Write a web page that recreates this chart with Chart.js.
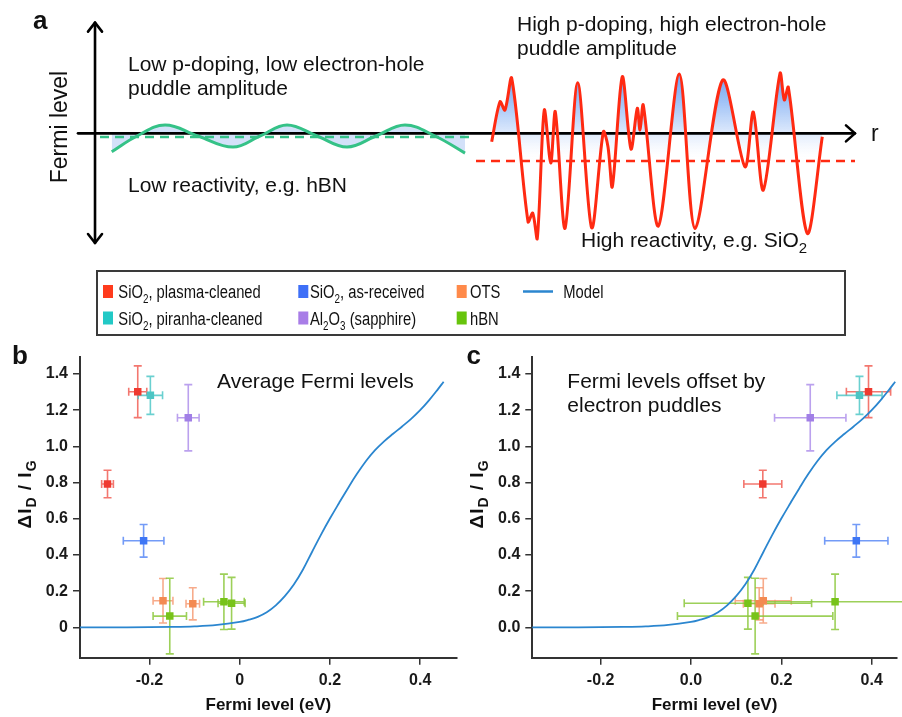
<!DOCTYPE html>
<html><head><meta charset="utf-8">
<script src="https://cdn.jsdelivr.net/npm/chart.js@4.4.1/dist/chart.umd.min.js"></script>
<style>
html,body{margin:0;padding:0;background:#fff;}
body{width:902px;height:717px;position:relative;overflow:hidden;}
canvas{position:absolute;display:block;}
#ca{left:0;top:0;}
#cb{left:0;top:335px;}
#cc{left:450px;top:335px;}
</style></head><body>
<canvas id="ca" width="902" height="340"></canvas>
<canvas id="cb" width="462" height="382"></canvas>
<canvas id="cc" width="452" height="382"></canvas>
<script>
// ---------- Panel a: schematic Fermi level vs position r (arbitrary units) ----------
const lowR     = [4.34, 7.59, 11.20, 15.44, 19.95, 23.42, 26.90, 30.76, 34.62, 38.35, 42.08, 45.95, 49.81];
const lowLevel = [-0.160, -0.023, 0.072, -0.023, -0.119, -0.023, 0.072, -0.023, -0.119, -0.023, 0.072, -0.023, -0.171];
const lowMeanR = [2.83, 50.84];
const lowMean  = -0.032;
const highR     = [53.24,54.31,54.95,55.82,57.92,58.52,59.11,60.01,60.84,61.43,62.68,64.31,66.11,67.61,68.21,68.77,70.05,71.17,71.98,72.33,72.75,74.69,77.39,79.41,82.97,85.84,86.91,88.20,90.35,90.90,91.42,93.86,95.79];
const highLevel = [-0.073,0.274,0.202,0.477,-0.767,-0.691,-0.911,0.202,-0.258,0.187,-0.824,0.439,-0.819,0.014,-0.116,-0.463,0.491,-0.136,0.217,0.029,0.245,-0.804,0.514,-0.824,0.462,-0.290,0.185,-0.492,0.520,0.289,0.399,-0.867,-0.029];
const highMeanR = [51.22, 100];
const highMean  = -0.240;

// ---------- Panels b / c data ----------
const plasmaY = [1.302, 0.792], plasmaYErr = [0.143, 0.076];
const plasmaX_b = [-0.226, -0.293], plasmaXErr_b = [0.020, 0.013];
const plasmaX_c = [0.393, 0.159],  plasmaXErr_c = [0.049, 0.042];
const piranhaY = [1.282], piranhaYErr = [0.105];
const piranhaX_b = [-0.198], piranhaXErr_b = [0.027];
const piranhaX_c = [0.373],  piranhaXErr_c = [0.050];
const asRecY = [0.478], asRecYErr = [0.090];
const asRecX_b = [-0.213], asRecXErr_b = [0.045];
const asRecX_c = [0.366],  asRecXErr_c = [0.070];
const sapphY = [1.158], sapphYErr = [0.183];
const sapphX_b = [-0.114], sapphXErr_b = [0.024];
const sapphX_c = [0.264],  sapphXErr_c = [0.079];
const otsY = [0.147, 0.130], otsYErr = [0.123, 0.089];
const otsX_b = [-0.170, -0.104], otsXErr_b = [0.022, 0.015];
const otsX_c = [0.160, 0.151],   otsXErr_c = [0.062, 0.035];
const hbnY = [0.062, 0.141, 0.133], hbnYErr = [0.209, 0.153, 0.143];
const hbnX_b = [-0.155, -0.035, -0.018], hbnXErr_b = [0.037, 0.045, 0.030];
const hbnX_c = [0.142, 0.319, 0.126],    hbnXErr_c = [0.172, 0.160, 0.141];

const modelX = [-0.354,-0.25,-0.15,-0.10,-0.05,0.00,0.02,0.04,0.06,0.08,0.10,0.12,0.14,0.16,0.18,0.20,0.22,0.24,0.26,0.28,0.30,0.32,0.34,0.36,0.38,0.40,0.42,0.44,0.452];
const modelY = [0.000,0.000,0.002,0.005,0.013,0.030,0.042,0.058,0.083,0.121,0.172,0.236,0.318,0.415,0.511,0.601,0.686,0.769,0.848,0.919,0.979,1.028,1.070,1.110,1.152,1.200,1.256,1.318,1.357];

const xTicks = [-0.2, 0, 0.2, 0.4];
const xTickLabelsB = ['-0.2', '0', '0.2', '0.4'];
const xTickLabelsC = ['-0.2', '0.0', '0.2', '0.4'];
const yTicks = [0, 0.2, 0.4, 0.6, 0.8, 1.0, 1.2, 1.4];
const yTickLabelsB = ['0', '0.2', '0.4', '0.6', '0.8', '1.0', '1.2', '1.4'];
const yTickLabelsC = ['0.0', '0.2', '0.4', '0.6', '0.8', '1.0', '1.2', '1.4'];

const colors = {
  plasma:  {m:'#ef3a30', e:'rgba(240,85,75,0.8)',  l:'#ff3b1d'},
  piranha: {m:'#4cc5c4', e:'rgba(80,200,200,0.85)', l:'#22c9c6'},
  asrec:   {m:'#3e76f5', e:'rgba(80,130,245,0.8)', l:'#3e6ff7'},
  sapph:   {m:'#a17fe6', e:'rgba(175,145,235,0.85)', l:'#a87de7'},
  ots:     {m:'#f38a52', e:'rgba(245,150,110,0.8)', l:'#ff8a4a'},
  hbn:     {m:'#78c31a', e:'rgba(140,200,60,0.85)', l:'#67c40c'},
  model:   '#2b86cf'
};

const FONT = '"Liberation Sans", Arial, sans-serif';
function hasFont(name){
  const c = document.createElement('canvas').getContext('2d');
  c.font = '40px monospace'; const w1 = c.measureText('abcdefghijklmnopWM').width;
  c.font = '40px "' + name + '", monospace'; const w2 = c.measureText('abcdefghijklmnopWM').width;
  return Math.abs(w1 - w2) > 0.5;
}
const NARROW = hasFont('Liberation Sans Narrow');

// draws parts [[text, isSub], ...]
function richText(ctx, parts, x, y, size, opts){
  opts = opts || {};
  const weight = opts.bold ? 'bold ' : '';
  let fam = FONT, sx = 1;
  if (opts.narrow){ if (NARROW) fam = '"Liberation Sans Narrow", ' + FONT; else sx = 0.82; }
  const subSize = opts.subSize || Math.round(size * 0.68);
  ctx.save();
  ctx.translate(x, y); ctx.scale(sx, 1);
  ctx.textBaseline = 'alphabetic'; ctx.textAlign = 'left';
  let cx = 0;
  for (const [t, sub] of parts){
    ctx.font = weight + (sub ? subSize : size) + 'px ' + fam;
    ctx.fillText(t, cx, sub ? size * 0.28 : 0);
    cx += ctx.measureText(t).width;
  }
  ctx.restore();
}

// ---------- Panel a ----------
const legendItems = [
  {parts:[['SiO',0],['2',1],[', plasma-cleaned',0]], c:colors.plasma.l, col:0, row:0},
  {parts:[['SiO',0],['2',1],[', piranha-cleaned',0]], c:colors.piranha.l, col:0, row:1},
  {parts:[['SiO',0],['2',1],[', as-received',0]], c:colors.asrec.l, col:1, row:0},
  {parts:[['Al',0],['2',1],['O',0],['3',1],[' (sapphire)',0]], c:colors.sapph.l, col:1, row:1},
  {parts:[['OTS',0]], c:colors.ots.l, col:2, row:0},
  {parts:[['hBN',0]], c:colors.hbn.l, col:2, row:1},
];

const panelA = {
  id: 'panelA',
  beforeDatasetsDraw(chart){
    const {ctx} = chart, xs = chart.scales.x, ys = chart.scales.y;
    ctx.save();
    ctx.strokeStyle = '#000'; ctx.lineWidth = 2.6; ctx.lineCap = 'round'; ctx.lineJoin = 'round';
    const y0 = ys.getPixelForValue(0);
    const x0 = xs.getPixelForValue(0), x1 = xs.getPixelForValue(100);
    ctx.beginPath(); ctx.moveTo(x0, y0); ctx.lineTo(x1, y0); ctx.stroke();
    ctx.beginPath(); ctx.moveTo(x1 - 9, y0 - 8); ctx.lineTo(x1, y0); ctx.lineTo(x1 - 9, y0 + 8); ctx.stroke();
    const vx = xs.getPixelForValue(2.19), vt = ys.getPixelForValue(0.96), vb = ys.getPixelForValue(-0.951);
    ctx.beginPath(); ctx.moveTo(vx, vt); ctx.lineTo(vx, vb); ctx.stroke();
    ctx.beginPath(); ctx.moveTo(vx - 7, vt + 9); ctx.lineTo(vx, vt); ctx.lineTo(vx + 7, vt + 9); ctx.stroke();
    ctx.beginPath(); ctx.moveTo(vx - 7, vb - 9); ctx.lineTo(vx, vb); ctx.lineTo(vx + 7, vb - 9); ctx.stroke();
    ctx.restore();
  },
  afterDraw(chart){
    const {ctx} = chart;
    ctx.save();
    ctx.fillStyle = '#111';
    ctx.font = 'bold 26px ' + FONT; ctx.textBaseline = 'alphabetic';
    ctx.fillText('a', 33, 29);
    ctx.font = '21px ' + FONT;
    ctx.fillText('Low p-doping, low electron-hole', 128, 71);
    ctx.fillText('puddle amplitude', 128, 95);
    ctx.fillText('Low reactivity, e.g. hBN', 128, 192);
    ctx.fillText('High p-doping, high electron-hole', 517, 31);
    ctx.fillText('puddle amplitude', 517, 55);
    richText(ctx, [['High reactivity, e.g. SiO',0],['2',1]], 581, 247, 21, {subSize:15});
    ctx.font = '23px ' + FONT;
    ctx.fillText('r', 871, 141);
    ctx.save();
    ctx.translate(67, 127); ctx.rotate(-Math.PI / 2);
    ctx.textAlign = 'center'; ctx.font = '23px ' + FONT;
    ctx.fillText('Fermi level', 0, 0);
    ctx.restore();

    // legend box
    ctx.strokeStyle = '#3a3a3a'; ctx.lineWidth = 2;
    ctx.strokeRect(97, 271, 748, 64);
    const colX = [103, 298.3, 456.7], textX = [118.3, 310, 470];
    const rowY = [298, 324.5];
    for (const it of legendItems){
      ctx.fillStyle = it.c;
      ctx.fillRect(colX[it.col], rowY[it.row] - 13, 10, 13);
      ctx.fillStyle = '#111';
      richText(ctx, it.parts, textX[it.col], rowY[it.row], 18, {narrow:true, subSize:12});
    }
    ctx.strokeStyle = colors.model; ctx.lineWidth = 2.5;
    ctx.beginPath(); ctx.moveTo(523, 291.5); ctx.lineTo(553, 291.5); ctx.stroke();
    ctx.fillStyle = '#111';
    richText(ctx, [['Model',0]], 563.3, 298, 18, {narrow:true});
    ctx.restore();
  }
};

function pts(xs, ys){ return xs.map((x, i) => ({x, y: ys[i]})); }

new Chart(document.getElementById('ca'), {
  type: 'line',
  data: { datasets: [
    {data: pts(lowR, lowLevel), borderColor:'#35c287', borderWidth:3, tension:0.4, pointRadius:0,
     fill:'origin', backgroundColor:'rgba(200,218,248,0.8)'},
    {data: pts(lowMeanR, [lowMean, lowMean]), borderColor:'#35c287', borderWidth:2.5, borderDash:[9,6], pointRadius:0, fill:false},
    {data: pts(highR, highLevel), borderColor:'#ff2a12', borderWidth:3, tension:0.3, pointRadius:0,
     fill:'origin',
     backgroundColor: (context) => {
       const chart = context.chart; const {ctx, chartArea} = chart;
       if (!chartArea) return 'rgba(180,205,245,0.7)';
       const ys = chart.scales.y;
       const top = ys.getPixelForValue(0.55), bot = ys.getPixelForValue(-0.25);
       const g = ctx.createLinearGradient(0, top, 0, bot);
       g.addColorStop(0, 'rgba(95,150,240,0.95)');
       g.addColorStop(0.35, 'rgba(150,188,245,0.9)');
       g.addColorStop(0.68, 'rgba(215,229,251,0.85)');
       g.addColorStop(1, 'rgba(255,255,255,0)');
       return g;
     }},
    {data: pts(highMeanR, [highMean, highMean]), borderColor:'#ff2a12', borderWidth:2.5, borderDash:[9,6], pointRadius:0, fill:false}
  ]},
  options: {
    responsive:false, animation:false, events:[],
    layout:{padding:{left:78, right:47, top:18, bottom:91.3}},
    scales:{ x:{type:'linear', min:0, max:100, display:false}, y:{type:'linear', min:-1, max:1, display:false} },
    plugins:{ legend:{display:false}, tooltip:{enabled:false}, filler:{drawTime:'beforeDatasetsDraw'} }
  },
  plugins:[panelA]
});

// ---------- Panels b and c ----------
function errPlugin(cfg){
  return {
    id: 'panel' + cfg.label,
    beforeDatasetsDraw(chart){
      const {ctx} = chart, xs = chart.scales.x, ys = chart.scales.y;
      ctx.save(); ctx.lineWidth = 1.6;
      chart.data.datasets.forEach((ds, i) => {
        if (!ds.errX) return;
        ctx.strokeStyle = ds.errColor;
        ds.data.forEach((p, j) => {
          const px = xs.getPixelForValue(p.x), py = ys.getPixelForValue(p.y);
          const xl = xs.getPixelForValue(p.x - ds.errX[j]), xr = xs.getPixelForValue(p.x + ds.errX[j]);
          const yt = ys.getPixelForValue(p.y + ds.errY[j]), yb = ys.getPixelForValue(p.y - ds.errY[j]);
          ctx.beginPath();
          ctx.moveTo(xl, py); ctx.lineTo(xr, py);
          ctx.moveTo(xl, py - 4); ctx.lineTo(xl, py + 4);
          ctx.moveTo(xr, py - 4); ctx.lineTo(xr, py + 4);
          ctx.moveTo(px, yt); ctx.lineTo(px, yb);
          ctx.moveTo(px - 4, yt); ctx.lineTo(px + 4, yt);
          ctx.moveTo(px - 4, yb); ctx.lineTo(px + 4, yb);
          ctx.stroke();
        });
      });
      ctx.restore();
    },
    afterDraw(chart){
      const {ctx} = chart;
      ctx.save();
      ctx.fillStyle = '#111';
      ctx.font = 'bold 26px ' + FONT; ctx.textBaseline = 'alphabetic'; ctx.textAlign = 'left';
      ctx.fillText(cfg.label, cfg.labelX, 29);
      ctx.font = '21px ' + FONT;
      cfg.note.forEach((t, k) => ctx.fillText(t, cfg.noteX, 52.7 + 24 * k));
      // y title with subscripts
      ctx.translate(cfg.yTitleX, 159); ctx.rotate(-Math.PI / 2);
      try { ctx.letterSpacing = '1px'; } catch(e) {}
      const parts = [['\u0394I',0],['D',1],[' / I',0],['G',1]];
      let w = 0;
      parts.forEach(([t, s]) => { ctx.font = 'bold ' + (s ? 14 : 19) + 'px ' + FONT; w += ctx.measureText(t).width; });
      let cx = -w / 2;
      parts.forEach(([t, s]) => { ctx.font = 'bold ' + (s ? 14 : 19) + 'px ' + FONT; ctx.fillText(t, cx, s ? 4.5 : 0); cx += ctx.measureText(t).width; });
      ctx.restore();
    }
  };
}

function scatterSet(xs, xe, ys, ye, c){
  return {type:'scatter', data: pts(xs, ys), errX: xe, errY: ye, errColor: c.e,
    backgroundColor: c.m, borderWidth: 0, pointStyle: 'rect', pointRadius: 5.3, order: 1};
}

function makePanel(id, cfg){
  const X = cfg.x;
  return new Chart(document.getElementById(id), {
    type: 'scatter',
    data: { datasets: [
      {type:'line', data: pts(modelX, modelY), borderColor: colors.model, borderWidth: 1.8, pointRadius: 0,
       tension:0.4, fill:false, order: 10},
      scatterSet(X.plasma, X.plasmaE, plasmaY, plasmaYErr, colors.plasma),
      scatterSet(X.piranha, X.piranhaE, piranhaY, piranhaYErr, colors.piranha),
      scatterSet(X.asrec, X.asrecE, asRecY, asRecYErr, colors.asrec),
      scatterSet(X.sapph, X.sapphE, sapphY, sapphYErr, colors.sapph),
      scatterSet(X.ots, X.otsE, otsY, otsYErr, colors.ots),
      scatterSet(X.hbn, X.hbnE, hbnY, hbnYErr, colors.hbn)
    ]},
    options: {
      responsive:false, animation:false, events:[],
      layout:{padding:{left:0, right:cfg.padRight, top:21.7, bottom:0}},
      scales: {
        x: {type:'linear', min: cfg.xMin, max: cfg.xMax,
            afterBuildTicks: s => { s.ticks = xTicks.map(v => ({value: v})); },
            afterFit: s => { s.height = 59.3; },
            ticks: {callback: (v, i) => cfg.xLabels[i], font:{family:FONT, size:16, weight:'bold'}, color:'#1a1a1a', padding:6, maxRotation:0, autoSkip:false},
            grid: {display:true, drawOnChartArea:false, drawTicks:true, tickLength:7, color:'#333', lineWidth:1.5},
            border: {display:true, color:'#333', width:2},
            title: {display:true, text:'Fermi level (eV)', font:{family:FONT, size:17, weight:'bold'}, color:'#111', padding:{top:0, bottom:1}}
        },
        y: {type:'linear', min: -0.168, max: 1.4956,
            afterBuildTicks: s => { s.ticks = yTicks.map(v => ({value: v})); },
            afterFit: s => { s.width = cfg.yWidth; },
            ticks: {callback: (v, i) => cfg.yLabels[i], font:{family:FONT, size:16, weight:'bold'}, color:'#1a1a1a', padding:5},
            grid: {display:true, drawOnChartArea:false, drawTicks:true, tickLength:7, color:'#333', lineWidth:1.5},
            border: {display:true, color:'#333', width:2}
        }
      },
      plugins:{ legend:{display:false}, tooltip:{enabled:false} }
    },
    plugins:[errPlugin(cfg)]
  });
}

makePanel('cb', {
  label:'b', labelX:12, note:['Average Fermi levels'], noteX:217, yTitleX:31,
  padRight:2, yWidth:80, xMin:-0.354, xMax:0.481, xLabels:xTickLabelsB, yLabels:yTickLabelsB,
  x:{plasma:plasmaX_b, plasmaE:plasmaXErr_b, piranha:piranhaX_b, piranhaE:piranhaXErr_b, asrec:asRecX_b, asrecE:asRecXErr_b,
     sapph:sapphX_b, sapphE:sapphXErr_b, ots:otsX_b, otsE:otsXErr_b, hbn:hbnX_b, hbnE:hbnXErr_b}
});
makePanel('cc', {
  label:'c', labelX:16.5, note:['Fermi levels offset by', 'electron puddles'], noteX:117.3, yTitleX:33,
  padRight:0, yWidth:82.3, xMin:-0.3513, xMax:0.4554, xLabels:xTickLabelsC, yLabels:yTickLabelsC,
  x:{plasma:plasmaX_c, plasmaE:plasmaXErr_c, piranha:piranhaX_c, piranhaE:piranhaXErr_c, asrec:asRecX_c, asrecE:asRecXErr_c,
     sapph:sapphX_c, sapphE:sapphXErr_c, ots:otsX_c, otsE:otsXErr_c, hbn:hbnX_c, hbnE:hbnXErr_c}
});
</script>
</body></html>
